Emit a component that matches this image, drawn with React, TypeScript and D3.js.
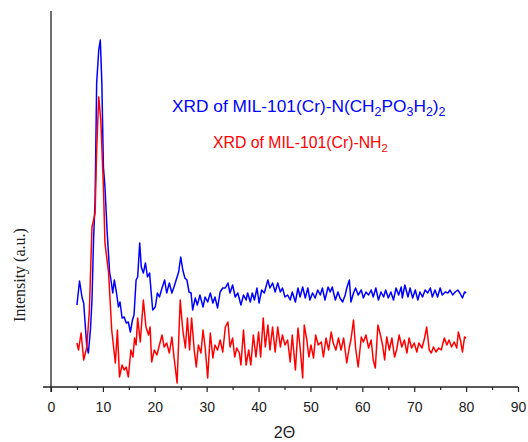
import React, { useEffect, useRef } from 'react';
import * as d3 from 'd3';

// 2θ (deg), intensity (a.u.)
const phosphonatePattern: [number, number][] = [
  [5.0, 82], [5.5, 106], [6.0, 89], [6.3, 84], [6.9, 40], [7.2, 34], [7.6, 57], [7.9, 87],
  [8.2, 147], [8.5, 187], [8.8, 304], [9.2, 337], [9.5, 347], [9.8, 304], [10.1, 220], [10.4, 200],
  [10.8, 157], [11.3, 114], [11.5, 109], [11.9, 94], [12.2, 107], [12.6, 95], [13.0, 80], [13.3, 85],
  [13.7, 69], [14.1, 70], [14.5, 64], [14.9, 65], [15.3, 55], [15.7, 67], [16.0, 72], [16.4, 107],
  [16.7, 110], [17.1, 144], [17.4, 120], [17.8, 114], [18.2, 124], [18.6, 110], [19.0, 114], [19.3, 95],
  [19.6, 77], [20.1, 80], [20.5, 94], [20.9, 90], [21.4, 99], [21.9, 107], [22.3, 94], [22.8, 104],
  [23.3, 94], [23.7, 100], [24.3, 110], [24.6, 115], [25.0, 130], [25.4, 117], [25.8, 109], [26.2, 107],
  [26.6, 95], [27.0, 94], [27.3, 77], [27.8, 89], [28.2, 82], [28.7, 92], [29.3, 80], [29.7, 90],
  [30.2, 85], [30.7, 94], [31.2, 84], [31.6, 90], [32.1, 79], [32.6, 95], [33.1, 99], [33.6, 99],
  [34.1, 104], [34.5, 94], [35.0, 102], [35.5, 90], [36.0, 94], [36.6, 82], [37.1, 92], [37.6, 87],
  [37.9, 94], [38.4, 85], [38.8, 94], [39.2, 87], [39.7, 99], [40.1, 84], [40.6, 97], [41.1, 94],
  [41.8, 107], [42.2, 99], [42.7, 104], [43.2, 95], [43.7, 104], [44.2, 95], [44.6, 99], [45.1, 90],
  [45.6, 92], [46.1, 87], [46.5, 95], [47.1, 85], [47.6, 99], [48.0, 90], [48.5, 100], [49.0, 89],
  [49.5, 99], [49.9, 87], [50.4, 94], [50.9, 89], [51.4, 97], [51.9, 92], [52.3, 99], [52.8, 87],
  [53.4, 100], [53.8, 95], [54.2, 100], [54.8, 87], [55.3, 95], [55.7, 89], [56.2, 85], [56.7, 92],
  [57.0, 99], [57.5, 107], [57.8, 85], [58.3, 94], [58.7, 99], [59.2, 92], [59.8, 97], [60.2, 89],
  [60.7, 95], [61.2, 92], [61.7, 97], [62.1, 90], [62.6, 99], [63.1, 87], [63.6, 95], [64.1, 90],
  [64.5, 97], [65.0, 89], [65.5, 95], [66.0, 87], [66.5, 99], [67.0, 92], [67.5, 100], [67.7, 89],
  [68.2, 102], [68.8, 90], [69.2, 99], [69.7, 89], [70.2, 97], [70.7, 87], [71.1, 95], [71.6, 90],
  [72.1, 97], [72.6, 94], [73.1, 99], [73.5, 90], [74.0, 97], [74.5, 90], [75.0, 99], [75.4, 92],
  [76.0, 95], [76.5, 94], [76.9, 97], [77.4, 92], [77.9, 95], [78.4, 97], [78.8, 94], [79.3, 89],
  [79.7, 95], [80.0, 94],
];

const aminoPattern: [number, number][] = [
  [5.0, 44], [5.3, 37], [5.8, 54], [6.3, 27], [6.9, 40], [7.4, 77], [7.9, 160], [8.5, 174],
  [8.8, 237], [9.2, 290], [9.6, 267], [10.1, 200], [10.4, 144], [11.1, 114], [11.7, 57], [12.4, 24],
  [12.8, 57], [13.2, 10], [13.7, 22], [14.1, 17], [14.5, 20], [14.9, 10], [15.4, 37], [15.8, 30],
  [16.1, 49], [16.4, 42], [16.7, 69], [17.2, 45], [17.8, 87], [18.3, 60], [18.8, 52], [19.1, 60],
  [19.4, 25], [19.9, 37], [20.4, 32], [20.9, 42], [21.4, 52], [21.8, 40], [22.3, 44], [22.8, 34],
  [23.3, 50], [23.7, 30], [24.3, 4], [24.9, 87], [25.4, 57], [25.9, 39], [26.3, 69], [26.7, 37],
  [27.1, 69], [27.6, 37], [28.0, 20], [28.4, 42], [28.9, 34], [29.3, 57], [29.7, 40], [30.2, 9],
  [30.7, 54], [31.2, 29], [31.6, 42], [32.1, 37], [32.6, 47], [33.1, 35], [33.6, 60], [34.1, 65],
  [34.5, 40], [35.0, 49], [35.4, 30], [35.8, 39], [36.3, 34], [36.6, 22], [37.1, 57], [37.6, 22],
  [38.1, 37], [38.5, 22], [39.0, 52], [39.5, 30], [40.0, 55], [40.4, 30], [40.9, 69], [41.3, 40],
  [41.8, 62], [42.2, 37], [42.7, 60], [43.2, 35], [43.7, 60], [44.2, 40], [44.6, 52], [45.1, 42],
  [45.6, 47], [46.1, 25], [46.5, 52], [47.1, 17], [47.6, 59], [48.0, 40], [48.5, 9], [48.8, 62],
  [49.3, 47], [49.7, 30], [50.1, 42], [50.6, 29], [51.0, 52], [51.5, 42], [52.1, 45], [52.5, 30],
  [53.0, 49], [53.5, 37], [54.0, 55], [54.4, 44], [54.9, 37], [55.4, 49], [55.9, 37], [56.4, 49],
  [57.0, 24], [57.5, 40], [57.8, 47], [58.3, 67], [58.7, 39], [59.2, 20], [59.8, 50], [60.2, 45],
  [60.7, 52], [61.2, 39], [61.7, 47], [62.1, 27], [62.5, 19], [63.0, 62], [63.4, 54], [63.9, 42],
  [64.3, 27], [64.7, 50], [65.2, 37], [65.7, 49], [66.2, 30], [66.6, 37], [67.1, 52], [67.6, 40],
  [68.1, 47], [68.6, 34], [69.0, 49], [69.5, 39], [70.0, 44], [70.5, 35], [70.9, 44], [71.5, 39],
  [72.0, 49], [72.4, 60], [72.9, 37], [73.3, 34], [73.7, 40], [74.2, 35], [74.7, 39], [75.2, 37],
  [75.8, 49], [76.3, 42], [76.7, 47], [77.2, 40], [77.7, 45], [78.2, 39], [78.5, 55], [78.9, 47],
  [79.3, 35], [79.7, 50], [80.0, 49],
];

const majorTicks = [0, 10, 20, 30, 40, 50, 60, 70, 80, 90];
const minorTicks = [5, 15, 25, 35, 45, 55, 65, 75, 85];

const XRDChart = () => {
  const chartRef = useRef<SVGSVGElement>(null);

  useEffect(() => {
    const svg = d3.select(chartRef.current);
    svg.selectAll('*').remove();

    const x = d3.scaleLinear().domain([0, 90]).range([51, 518]);
    const y = d3.scaleLinear().domain([0, 376]).range([387, 11]);

    const line = d3.line<[number, number]>()
      .x(d => x(d[0]))
      .y(d => y(d[1]));

    svg.append('path')
      .datum(phosphonatePattern)
      .attr('d', line)
      .attr('fill', 'none')
      .attr('stroke', '#0000ff')
      .attr('stroke-width', 1.5)
      .attr('stroke-linejoin', 'round');

    svg.append('path')
      .datum(aminoPattern)
      .attr('d', line)
      .attr('fill', 'none')
      .attr('stroke', '#ff0000')
      .attr('stroke-width', 1.5)
      .attr('stroke-linejoin', 'round');

    // axes
    const xAxis = svg.append('g').attr('transform', `translate(0,${y(0)})`);
    xAxis.call(
      d3.axisBottom(x).tickValues(majorTicks).tickSize(5).tickSizeOuter(0).tickFormat(d3.format('d'))
    );
    xAxis.select('.domain').remove();
    xAxis.selectAll('text')
      .attr('font-family', '"Liberation Sans", Arial, sans-serif')
      .attr('font-size', 14)
      .attr('fill', '#222')
      .attr('dy', '1.2em');
    xAxis.selectAll('line').attr('stroke', '#222').attr('stroke-width', 1.2);

    const xMinor = svg.append('g').attr('transform', `translate(0,${y(0)})`);
    xMinor.call(d3.axisBottom(x).tickValues(minorTicks).tickSize(3).tickSizeOuter(0).tickFormat(() => ''));
    xMinor.select('.domain').remove();
    xMinor.selectAll('line').attr('stroke', '#222').attr('stroke-width', 1.2);

    svg.append('line')
      .attr('x1', x(0) - 8).attr('x2', x(90))
      .attr('y1', y(0)).attr('y2', y(0))
      .attr('stroke', '#222').attr('stroke-width', 1.3);

    svg.append('line')
      .attr('x1', x(0)).attr('x2', x(0))
      .attr('y1', y(376)).attr('y2', y(0) + 5)
      .attr('stroke', '#222').attr('stroke-width', 1.3);

    svg.append('text')
      .attr('x', (x(0) + x(90)) / 2)
      .attr('y', 438)
      .attr('text-anchor', 'middle')
      .attr('font-family', '"Liberation Sans", Arial, sans-serif')
      .attr('font-size', 16)
      .attr('fill', '#222')
      .text('2Θ');

    svg.append('text')
      .attr('transform', 'translate(25,275) rotate(-90)')
      .attr('text-anchor', 'middle')
      .attr('font-family', '"Liberation Serif", "Times New Roman", serif')
      .attr('font-size', 16)
      .attr('fill', '#222')
      .text('Intensity (a.u.)');

    // annotations with subscripts
    const label = (xPos: number, yPos: number, color: string, size: number, parts: [string, boolean][]) => {
      const t = svg.append('text')
        .attr('x', xPos)
        .attr('y', yPos)
        .attr('font-family', '"Liberation Sans", Arial, sans-serif')
        .attr('font-size', size)
        .attr('fill', color);
      let sub = false;
      parts.forEach(([s, isSub]) => {
        const ts = t.append('tspan').text(s);
        if (isSub) ts.attr('font-size', size * 0.72);
        if (isSub && !sub) ts.attr('dy', 4);
        if (!isSub && sub) ts.attr('dy', -4);
        sub = isSub;
      });
    };

    label(172, 112, '#0000ff', 17.3, [
      ['XRD of MIL-101(Cr)-N(CH', false], ['2', true], ['PO', false], ['3', true],
      ['H', false], ['2', true], [')', false], ['2', true],
    ]);
    label(213, 148, '#ff0000', 15.8, [
      ['XRD of MIL-101(Cr)-NH', false], ['2', true],
    ]);
  }, []);

  return (
    <svg
      ref={chartRef}
      width={528}
      height={442}
      style={{ position: 'absolute', left: 0, top: 0, background: '#fff' }}
    />
  );
};

export default function App() {
  return <XRDChart />;
}
